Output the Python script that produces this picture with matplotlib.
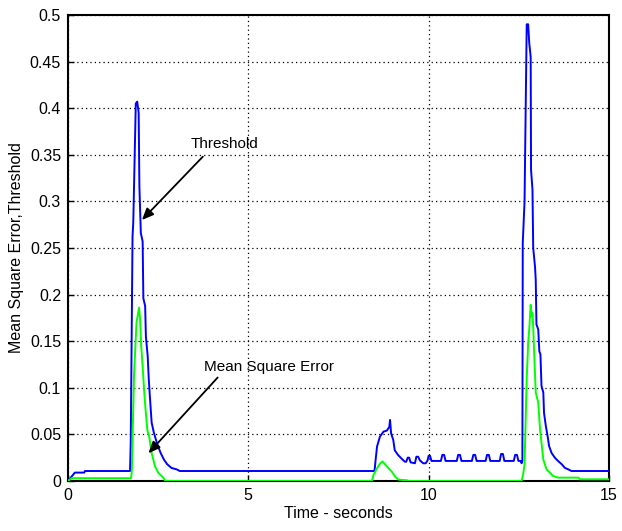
"""Mean square error and adaptive threshold over time."""

import matplotlib
matplotlib.use("Agg")
import matplotlib.pyplot as plt

# threshold curve (blue)
thr_t = [0, 0.19, 0.45, 0.47, 1.72, 1.74, 1.79, 1.81, 1.88, 1.92, 1.96, 1.98,
         2.02, 2.07, 2.09, 2.14, 2.16, 2.21, 2.24, 2.27, 2.32, 2.38, 2.48, 2.57,
         2.66, 2.75, 2.87, 3.01, 3.10,
         8.50, 8.53, 8.57, 8.65, 8.75, 8.84, 8.91, 8.93, 8.96, 9.02, 9.06, 9.15,
         9.25, 9.34, 9.38, 9.42, 9.46, 9.50, 9.62, 9.66, 9.71, 9.76, 9.85, 9.92,
         9.97, 10.00, 10.04, 10.08,
         10.34, 10.38, 10.43, 10.47, 10.78, 10.82, 10.87, 10.91,
         11.20, 11.24, 11.29, 11.33, 11.58, 11.62, 11.67, 11.71,
         11.97, 12.01, 12.06, 12.10, 12.36, 12.40, 12.45, 12.49,
         12.55, 12.58, 12.60,
         12.61, 12.66, 12.72, 12.76, 12.79, 12.83, 12.84, 12.88, 12.90, 12.95,
         12.97, 12.99, 13.04, 13.07, 13.10, 13.13, 13.18, 13.20, 13.25, 13.30,
         13.34, 13.41, 13.50, 13.59, 13.69, 13.78, 13.87, 13.96, 15.0]
thr_v = [0, 0.009, 0.009, 0.0107, 0.0107, 0.041, 0.2625, 0.277, 0.405, 0.407,
         0.395, 0.316, 0.266, 0.257, 0.196, 0.1875, 0.155, 0.134, 0.109, 0.091,
         0.0625, 0.052, 0.039, 0.030, 0.023, 0.018, 0.014, 0.0125, 0.0107,
         0.0107, 0.0225, 0.037, 0.0476, 0.053, 0.054, 0.058, 0.0655, 0.051,
         0.044, 0.033, 0.028,
         0.024, 0.0207, 0.0207, 0.025, 0.025, 0.020, 0.019, 0.026, 0.026, 0.022,
         0.019, 0.019, 0.022, 0.027, 0.027, 0.0215,
         0.0215, 0.028, 0.028, 0.0215, 0.0215, 0.028, 0.028, 0.0215,
         0.0215, 0.028, 0.028, 0.0215, 0.0215, 0.028, 0.028, 0.0215,
         0.0215, 0.029, 0.029, 0.0215, 0.0215, 0.028, 0.028, 0.0215,
         0.0215, 0.019, 0.022,
         0.255, 0.30, 0.49, 0.49, 0.47, 0.455, 0.334, 0.3125, 0.25, 0.23,
         0.216, 0.168, 0.1625, 0.139, 0.136, 0.102, 0.095, 0.073, 0.059, 0.048,
         0.0375, 0.030, 0.025, 0.0214, 0.018, 0.014, 0.0125, 0.0107, 0.0107]

# mean square error curve (green)
mse_t = [0, 0.10, 1.75, 1.77, 1.83, 1.90, 1.97, 2.00, 2.03, 2.07, 2.11, 2.15,
         2.20, 2.25, 2.32, 2.41, 2.50, 2.64, 2.70,
         8.43, 8.47, 8.57, 8.66, 8.72, 8.80, 8.89, 8.98, 9.08, 9.17, 9.40, 9.45,
         12.58, 12.62, 12.66, 12.70, 12.72, 12.76, 12.79, 12.83, 12.86, 12.88,
         12.90, 12.93, 12.97, 13.04, 13.09, 13.13, 13.18, 13.27, 13.36, 13.45,
         13.59, 14.15, 14.20, 15.0]
mse_v = [0, 0.003, 0.003, 0.0107, 0.1125, 0.17, 0.186, 0.173, 0.145, 0.123,
         0.098, 0.077, 0.055, 0.048, 0.030, 0.016, 0.009, 0.0036, 0,
         0, 0.0064, 0.0136, 0.019, 0.021, 0.0175, 0.0136, 0.010, 0.0043, 0.0014,
         0.0007, 0,
         0, 0.007, 0.018, 0.08, 0.109, 0.148, 0.1625, 0.189, 0.177, 0.18, 0.166,
         0.134, 0.095, 0.084, 0.055, 0.041, 0.023, 0.0125, 0.009, 0.0054,
         0.0036, 0.0036, 0.0018, 0.0018]

x_ticks = [0, 5, 10, 15]
y_ticks = [0, 0.05, 0.1, 0.15, 0.2, 0.25, 0.3, 0.35, 0.4, 0.45, 0.5]
y_tick_labels = ["0", "0.05", "0.1", "0.15", "0.2", "0.25", "0.3", "0.35",
                 "0.4", "0.45", "0.5"]

plt.rcParams["font.family"] = ["Liberation Sans", "DejaVu Sans"]

fig = plt.figure(figsize=(6.22, 5.31), dpi=100)
ax = fig.add_axes([0.1093, 0.0942, 0.8697, 0.8776])

ax.plot(thr_t, thr_v, color=(0, 0, 1), lw=1.4, zorder=3)
ax.plot(mse_t, mse_v, color=(0, 1, 0), lw=1.4, zorder=4)

ax.set_xlim(0, 15)
ax.set_ylim(0, 0.5)
ax.set_xticks(x_ticks)
ax.set_yticks(y_ticks)
ax.set_yticklabels(y_tick_labels)
ax.tick_params(direction="in", length=4, width=1, labelsize=11.5, pad=5)
ax.grid(True, color="black", linestyle=(0, (1, 2.5)), linewidth=0.9)
for sp in ax.spines.values():
    sp.set_linewidth(1.5)

ax.set_xlabel("Time - seconds", fontsize=11.5, labelpad=2)
ax.set_ylabel("Mean Square Error,Threshold", fontsize=11.5, labelpad=4)

arrow = dict(arrowstyle="-|>,head_length=0.7,head_width=0.3",
             color="black", lw=1.3, shrinkA=0, shrinkB=0)
ax.annotate("", xy=(2.05, 0.28), xytext=(3.74, 0.348), arrowprops=arrow,
            zorder=5)
ax.text(4.35, 0.362, "Threshold", fontsize=11, ha="center", va="center")
ax.annotate("", xy=(2.23, 0.0297), xytext=(4.15, 0.111), arrowprops=arrow,
            zorder=5)
ax.text(3.78, 0.122, "Mean Square Error", fontsize=11, ha="left",
        va="center")

fig.savefig("out.png", dpi=100)
